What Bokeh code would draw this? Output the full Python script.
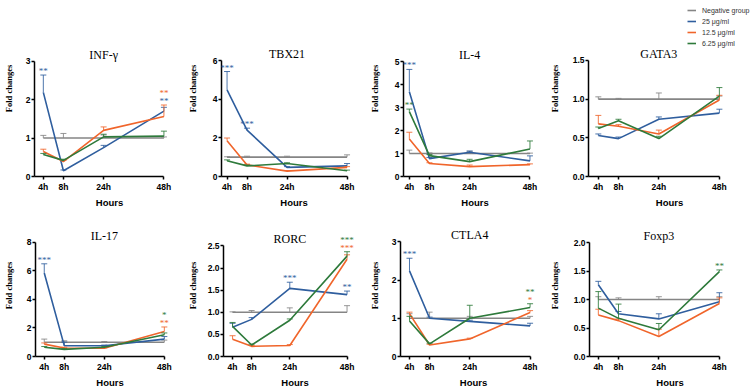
from bokeh.plotting import figure
from bokeh.layouts import row, column
from bokeh.models import (Range1d, FixedTicker, ColumnDataSource, LabelSet, Label,
                          Legend, LegendItem, PrintfTickFormatter)
from bokeh.embed import file_html
from bokeh.resources import INLINE

# ---- data -----------------------------------------------------------------
TIMES = ["4h", "8h", "24h", "48h"]
TIME_POS = [0, 1, 3, 6]          # uneven spacing of the time axis

GROUPS = ["neg", "25", "12.5", "6.25"]
GROUP_LABELS = ["Negative group", "25 μg/ml", "12.5 μg/ml", "6.25 μg/ml"]

# mean fold change and upper error (SEM) per group, at 4h / 8h / 24h / 48h
INFG_MEAN = {"neg": [1, 1, 1, 1], "25": [2.19, 0.15, 0.75, 1.70],
             "12.5": [0.65, 0.39, 1.20, 1.56], "6.25": [0.57, 0.42, 1.03, 1.05]}
INFG_SEM = {"neg": [0.07, 0.12, 0.08, 0.03], "25": [0.45, 0.02, 0.06, 0.10],
            "12.5": [0.06, 0.03, 0.09, 0.30], "6.25": [0.03, 0.03, 0.07, 0.13]}

TBX21_MEAN = {"neg": [1, 1, 1, 1], "25": [4.48, 2.40, 0.47, 0.55],
              "12.5": [1.85, 0.60, 0.28, 0.47], "6.25": [0.81, 0.55, 0.67, 0.30]}
TBX21_SEM = {"neg": [0.02, 0.05, 0.05, 0.12], "25": [0.95, 0.10, 0.04, 0.12],
             "12.5": [0.14, 0.04, 0.03, 0.04], "6.25": [0.05, 0.04, 0.04, 0.03]}

IL4_MEAN = {"neg": [1, 1, 1, 1], "25": [3.70, 0.78, 1.06, 0.68],
            "12.5": [1.64, 0.57, 0.43, 0.52], "6.25": [2.83, 0.91, 0.65, 1.20]}
IL4_SEM = {"neg": [0.15, 0.03, 0.10, 0.02], "25": [0.97, 0.05, 0.05, 0.22],
           "12.5": [0.29, 0.03, 0.07, 0.03], "6.25": [0.11, 0.05, 0.10, 0.35]}

GATA3_MEAN = {"neg": [1, 1, 1, 1], "25": [0.53, 0.49, 0.74, 0.82],
              "12.5": [0.68, 0.65, 0.55, 0.99], "6.25": [0.62, 0.72, 0.49, 1.04]}
GATA3_SEM = {"neg": [0.03, 0.01, 0.08, 0.04], "25": [0.02, 0.02, 0.03, 0.05],
             "12.5": [0.11, 0.02, 0.05, 0.06], "6.25": [0.02, 0.02, 0.03, 0.11]}

IL17_MEAN = {"neg": [1, 1, 1, 1], "25": [5.86, 0.76, 0.75, 1.22],
             "12.5": [0.87, 0.60, 0.58, 1.75], "6.25": [0.65, 0.50, 0.65, 1.52]}
IL17_SEM = {"neg": [0.22, 0.10, 0.05, 0.15], "25": [0.64, 0.25, 0.05, 0.18],
            "12.5": [0.08, 0.05, 0.03, 0.32], "6.25": [0.05, 0.05, 0.05, 0.13]}

RORC_MEAN = {"neg": [1, 1, 1, 1], "25": [0.66, 0.84, 1.54, 1.40],
             "12.5": [0.39, 0.23, 0.25, 2.20], "6.25": [0.68, 0.26, 0.82, 2.27]}
RORC_SEM = {"neg": [0.01, 0.04, 0.10, 0.15], "25": [0.09, 0.04, 0.14, 0.08],
            "12.5": [0.08, 0.02, 0.02, 0.10], "6.25": [0.09, 0.02, 0.03, 0.10]}

CTLA4_MEAN = {"neg": [1, 1, 1, 1], "25": [2.24, 1.00, 0.92, 0.80],
              "12.5": [1.12, 0.30, 0.46, 1.15], "6.25": [0.93, 0.33, 1.00, 1.28]}
CTLA4_SEM = {"neg": [0.12, 0.16, 0.05, 0.05], "25": [0.33, 0.03, 0.03, 0.07],
             "12.5": [0.04, 0.02, 0.02, 0.05], "6.25": [0.12, 0.02, 0.34, 0.10]}

FOXP3_MEAN = {"neg": [1, 1, 1, 1], "25": [1.26, 0.75, 0.66, 0.96],
              "12.5": [0.73, 0.63, 0.35, 0.93], "6.25": [0.85, 0.67, 0.47, 1.49]}
FOXP3_SEM = {"neg": [0.05, 0.03, 0.05, 0.05], "25": [0.06, 0.04, 0.09, 0.16],
             "12.5": [0.10, 0.03, 0.13, 0.10], "6.25": [0.29, 0.25, 0.11, 0.03]}

# significance marks: (time index, [(group, stars), ...] stacked bottom to top)
INFG_SIG = [(0, [("25", "**")]), (3, [("25", "**"), ("12.5", "**")])]
TBX21_SIG = [(0, [("25", "***")]), (1, [("25", "***")])]
IL4_SIG = [(0, [("25", "***")]), (0, [("6.25", "**")])]
GATA3_SIG = []
IL17_SIG = [(0, [("25", "***")]), (3, [("12.5", "**"), ("6.25", "*")])]
RORC_SIG = [(2, [("25", "***")]), (3, [("25", "**")]), (3, [("12.5", "***"), ("6.25", "***")])]
CTLA4_SIG = [(0, [("25", "***")]), (3, [("12.5", "*"), ("6.25", "**")])]
FOXP3_SIG = [(3, [("6.25", "**")])]

# y axis ticks per gene
INFG_YTICKS = [0, 1, 2, 3]
TBX21_YTICKS = [0, 2, 4, 6]
IL4_YTICKS = [0, 1, 2, 3, 4, 5]
GATA3_YTICKS = [0, 0.5, 1.0, 1.5]
IL17_YTICKS = [0, 2, 4, 6, 8]
RORC_YTICKS = [0, 0.5, 1.0, 1.5, 2.0, 2.5]
CTLA4_YTICKS = [0, 1, 2, 3]
FOXP3_YTICKS = [0, 0.5, 1.0, 1.5, 2.0]

# ---- styling / layout -------------------------------------------------------
COLORS = {"neg": "#858585", "25": "#2f5e9e", "12.5": "#f0652b", "6.25": "#2e7a3b"}

COL_X = [0, 184, 366, 546, 750]
ROW_Y = [0, 214, 390]

# page geometry of each panel: y axis x, 4h x, 48h x, axis top y, axis bottom y, y-title standoff
GEOM = {
    "INF-γ": (30.7, 40.0, 163.0, 60.7, 176.0, 9),
    "TBX21": (216.7, 222.7, 346.0, 60.0, 175.7, 12),
    "IL-4": (399.3, 405.0, 529.0, 61.7, 176.7, 12),
    "GATA3": (585.0, 595.0, 718.3, 61.7, 180.7, 10),
    "IL-17": (30.7, 40.0, 163.3, 242.3, 358.3, 10),
    "RORC": (219.0, 228.3, 346.0, 245.7, 356.7, 7),
    "CTLA4": (395.0, 404.3, 529.0, 241.7, 357.7, 9),
    "Foxp3": (585.7, 595.0, 718.3, 242.7, 359.0, 11),
}

PANELS = [
    ("INF-γ", INFG_MEAN, INFG_SEM, INFG_SIG, INFG_YTICKS, 0, 0),
    ("TBX21", TBX21_MEAN, TBX21_SEM, TBX21_SIG, TBX21_YTICKS, 0, 1),
    ("IL-4", IL4_MEAN, IL4_SEM, IL4_SIG, IL4_YTICKS, 0, 2),
    ("GATA3", GATA3_MEAN, GATA3_SEM, GATA3_SIG, GATA3_YTICKS, 0, 3),
    ("IL-17", IL17_MEAN, IL17_SEM, IL17_SIG, IL17_YTICKS, 1, 0),
    ("RORC", RORC_MEAN, RORC_SEM, RORC_SIG, RORC_YTICKS, 1, 1),
    ("CTLA4", CTLA4_MEAN, CTLA4_SEM, CTLA4_SIG, CTLA4_YTICKS, 1, 2),
    ("Foxp3", FOXP3_MEAN, FOXP3_SEM, FOXP3_SIG, FOXP3_YTICKS, 1, 3),
]


def make_panel(name, mean, sem, sig, yticks, r, c):
    col_left, col_w = COL_X[c], COL_X[c + 1] - COL_X[c]
    row_top, row_h = ROW_Y[r], ROW_Y[r + 1] - ROW_Y[r]
    ax_x, x4, x48, y_top, y_bot, ylab_standoff = GEOM[name]

    # the plotting frame fills the figure up to its top and right edges, so
    # titles, stars and the legend can sit above the axes without clipping;
    # the axis lines themselves are limited with bounds
    left = int(round(ax_x)) - col_left
    frame_w = col_w - left
    unit = (x48 - x4) / 6.0
    xmin = -(x4 - (col_left + left)) / unit
    xmax = xmin + frame_w / unit

    y_bottom_px = int(round(y_bot))
    bottom = row_top + row_h - y_bottom_px
    frame_h = y_bottom_px - row_top
    ymax = yticks[-1]
    px_per_unit = (y_bottom_px - y_top) / ymax
    yend = frame_h / px_per_unit

    p = figure(width=col_w, height=row_h, output_backend="svg", toolbar_location=None,
               title_location=None,
               x_range=Range1d(xmin, xmax), y_range=Range1d(0, yend),
               min_border_left=left, min_border_right=0,
               min_border_top=0, min_border_bottom=bottom)
    p.grid.visible = False
    p.outline_line_color = None
    p.background_fill_color = "white"
    p.border_fill_color = "white"

    for ax in (p.xaxis[0], p.yaxis[0]):
        ax.axis_line_width = 1.5
        ax.axis_line_color = "black"
        ax.major_tick_line_width = 1.5
        ax.major_tick_line_color = "black"
        ax.major_tick_out = 3
        ax.major_tick_in = 0
        ax.minor_tick_line_color = None
        ax.major_label_text_font = "Liberation Sans"
        ax.major_label_text_font_style = "bold"
        ax.major_label_text_font_size = "8.5px"
        ax.major_label_text_color = "black"
        ax.axis_label_text_color = "black"
        ax.axis_label_text_font_style = "bold"

    xa = p.xaxis[0]
    xa.ticker = FixedTicker(ticks=TIME_POS)
    xa.major_label_overrides = {pos: t for pos, t in zip(TIME_POS, TIMES)}
    xa.bounds = (xmin, TIME_POS[-1])
    xa.axis_label = "Hours"
    xa.axis_label_text_font = "Liberation Sans"
    xa.axis_label_text_font_size = "9.5px"
    xa.major_label_standoff = 2
    xa.axis_label_standoff = 2

    ya = p.yaxis[0]
    ya.ticker = FixedTicker(ticks=yticks)
    if any(t != int(t) for t in yticks):
        ya.formatter = PrintfTickFormatter(format="%.1f")
    else:
        ya.formatter = PrintfTickFormatter(format="%d")
    ya.bounds = (0, ymax)
    ya.axis_label = "Fold changes"
    ya.axis_label_text_font = "Liberation Serif"
    ya.axis_label_text_font_size = "8.5px"
    ya.major_label_standoff = 1
    ya.axis_label_standoff = ylab_standoff

    # gene name centred over the time axis
    p.add_layout(Label(x=(TIME_POS[0] + TIME_POS[-1]) / 2, y=ymax, text=name,
                       text_align="center", text_baseline="middle", y_offset=6.5,
                       text_font="Liberation Serif", text_font_size="12px",
                       text_color="black"))

    renderers = {}
    for g in GROUPS:
        upper = [m + e for m, e in zip(mean[g], sem[g])]
        color = COLORS[g]
        p.segment(x0=TIME_POS, y0=mean[g], x1=TIME_POS, y1=upper,
                  line_color=color, line_width=1, line_alpha=0.85)
        p.scatter(x=TIME_POS, y=upper, marker="dash", size=6,
                  line_color=color, line_width=1, line_alpha=0.85)
        renderers[g] = p.line(x=TIME_POS, y=mean[g], line_color=color, line_width=1.6)

    # significance stars, stacked above the highest error bar of each group
    xs, ys, texts, colors, dys = [], [], [], [], []
    for ti, stack in sig:
        anchor = max(mean[g][ti] + sem[g][ti] for g, _ in stack)
        for level, (g, stars) in enumerate(stack):
            xs.append(TIME_POS[ti])
            ys.append(anchor)
            texts.append(stars)
            colors.append(COLORS[g])
            dys.append(1 + 8 * level)
    if xs:
        src = ColumnDataSource(dict(x=xs, y=ys, text=texts, color=colors, dy=dys))
        p.add_layout(LabelSet(x="x", y="y", text="text", source=src, text_color="color",
                              y_offset="dy", text_align="center", text_baseline="alphabetic",
                              text_font="Liberation Sans", text_font_size="9px"))
    return p, renderers, (col_left + left, y_bottom_px - row_top)


figs = []
legend_info = None
for name, mean, sem, sig, yticks, r, c in PANELS:
    p, rends, frame_ref = make_panel(name, mean, sem, sig, yticks, r, c)
    figs.append(p)
    if name == "GATA3":
        legend_info = (p, rends, frame_ref)

# legend in the top-right corner of the page
lp, lrends, (frame_left, frame_bottom) = legend_info
legend = Legend(
    items=[LegendItem(label=lab, renderers=[lrends[g]]) for g, lab in zip(GROUPS, GROUP_LABELS)],
    location=(684 - frame_left, frame_bottom - 52),
    orientation="vertical",
    glyph_width=9, glyph_height=8, label_height=8, label_standoff=6,
    spacing=3, padding=0, margin=0,
    border_line_color=None, background_fill_alpha=0,
    label_text_font="Liberation Sans", label_text_font_size="7px", label_text_color="#333333",
)
lp.add_layout(legend)

layout = column(row(*figs[:4], spacing=0), row(*figs[4:], spacing=0), spacing=0)

with open("out.html", "w") as f:
    f.write(file_html(layout, INLINE))
